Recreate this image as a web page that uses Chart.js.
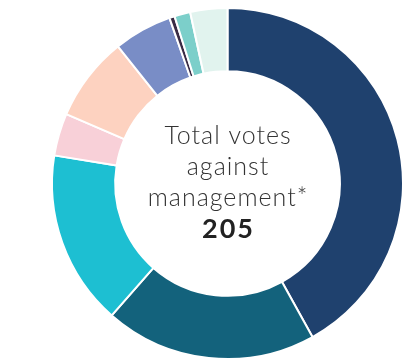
<!doctype html>
<html>
  <head>
    <meta charset="utf-8" />
    <title>Total votes against management</title>
    <script src="https://cdn.jsdelivr.net/npm/chart.js@4/dist/chart.umd.min.js"></script>
    <style>
      html, body { margin: 0; padding: 0; background: #fff; }
      #wrap { width: 405px; height: 363px; position: relative; }
    </style>
    <script>
      const categorias = ["A", "B", "C", "D", "E", "F", "G", "H", "I"];
      const votos = [86, 40, 33, 8, 16, 11, 1, 3, 7];
      const colores = ["#1f416e", "#13627c", "#1dbfd2", "#f8d0d8", "#fdd2c0", "#798dc6", "#3a2c45", "#7ccfca", "#e1f3ee"];
      const textoCentro = ["Total votes", "against", "management*"];
      const total = "205";

      const textoPlugin = {
        id: "textoCentro",
        afterDraw(chart) {
          const ctx = chart.ctx;
          const arc = chart.getDatasetMeta(0).data[0];
          const cx = arc.x, cy = arc.y;
          ctx.save();
          ctx.textAlign = "center";
          ctx.textBaseline = "middle";
          ctx.fillStyle = "#333333";
          ctx.font = "300 25px Lato";
          ctx.letterSpacing = "1px";
          textoCentro.forEach((t, i) => ctx.fillText(t, cx + 0.5, cy - 48 + i * 31));
          ctx.fillStyle = "#222222";
          ctx.font = "bold 27px Lato";
          ctx.letterSpacing = "2px";
          ctx.fillText(total, cx + 1, cy + 46);
          ctx.restore();
        },
      };

      document.addEventListener("DOMContentLoaded", () => {
        new Chart(document.getElementById("chart"), {
          type: "doughnut",
          data: {
            labels: categorias,
            datasets: [{ data: votos, backgroundColor: colores, borderColor: "#ffffff", borderWidth: 2 }],
          },
          options: {
            responsive: false,
            animation: false,
            cutout: "64%",
            layout: { padding: { left: 51, right: 1, top: 7, bottom: 3 } },
            plugins: { legend: { display: false }, tooltip: { enabled: false } },
          },
          plugins: [textoPlugin],
        });
      });
    </script>
  </head>
  <body>
    <div id="wrap"><canvas id="chart" width="405" height="363"></canvas></div>
  </body>
</html>
